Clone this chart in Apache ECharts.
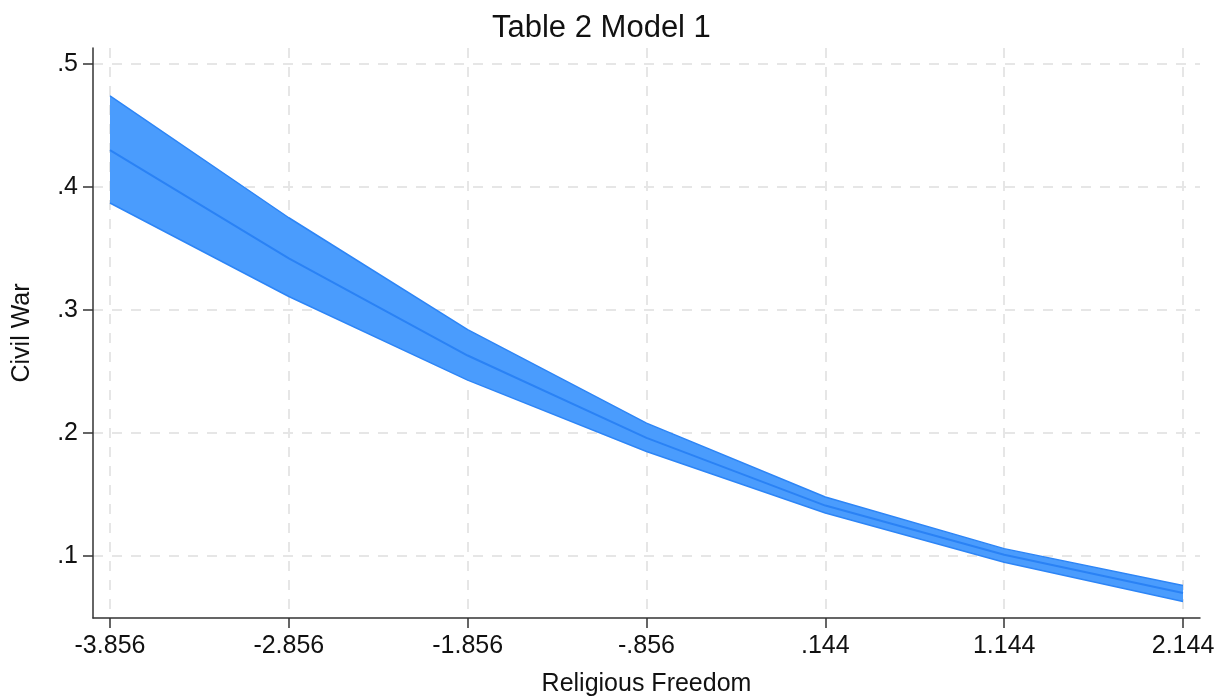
<!DOCTYPE html>
<html>
<head>
<meta charset="utf-8">
<script src="https://cdn.jsdelivr.net/npm/echarts@6/dist/echarts.min.js"></script>
<style>
  html, body { margin: 0; background: #fff; }
  #chart { width: 1225px; height: 697px; }
</style>
</head>
<body>
<div id="chart"></div>
<script>
// predicted probability of civil war by religious freedom, with CI
const freedom = [-3.856, -2.856, -1.856, -0.856, 0.144, 1.144, 2.144];
const fitMean = [0.430, 0.342, 0.263, 0.196, 0.141, 0.101, 0.070];
const ciLower = [0.387, 0.311, 0.243, 0.185, 0.135, 0.095, 0.063];
const ciUpper = [0.474, 0.375, 0.284, 0.208, 0.148, 0.106, 0.076];
const xTicks = [-3.856, -2.856, -1.856, -0.856, 0.144, 1.144, 2.144];
const yTicks = [0.1, 0.2, 0.3, 0.4, 0.5];

const font = '"Liberation Sans", Arial, sans-serif';
const fillColor = '#4a9cfd';
const edgeColor = '#2d85f6';
const meanColor = '#2a82f5';

// .5 instead of 0.5, -.856 instead of -0.856
function stataNum(v) {
  return String(v).replace(/^(-?)0\./, '$1.');
}

const pairs = (ys) => freedom.map((x, i) => [x, ys[i]]);

const gridLine = {
  show: true,
  lineStyle: { color: '#e6e6e6', width: 2, type: [10, 9] }
};

// the CI band as one polygon: upper edge left to right, lower edge back
function renderBand(params, api) {
  if (params.dataIndex !== 0) return null;
  const top = freedom.map((x, i) => api.coord([x, ciUpper[i]]));
  const bottom = freedom.map((x, i) => api.coord([x, ciLower[i]])).reverse();
  return {
    type: 'polygon',
    shape: { points: top.concat(bottom) },
    style: { fill: fillColor }
  };
}

const chart = echarts.init(document.getElementById('chart'));
chart.setOption({
  animation: false,
  textStyle: { fontFamily: font },
  title: {
    text: 'Table 2 Model 1',
    left: 487,
    top: 8,
    textStyle: { fontFamily: font, fontSize: 31, fontWeight: 'normal', color: '#111' }
  },
  grid: { left: 93, right: 25, top: 48, bottom: 79, outerBoundsMode: 'none' },
  xAxis: {
    type: 'value',
    min: -3.951,
    max: 2.239,
    name: 'Religious Freedom',
    nameLocation: 'middle',
    nameGap: 54,
    nameTextStyle: { fontFamily: font, fontSize: 25, color: '#111' },
    axisLine: { show: true, onZero: false, lineStyle: { color: '#333', width: 1.5 } },
    axisTick: { show: true, length: 10, customValues: xTicks, lineStyle: { color: '#333', width: 1.5 } },
    axisLabel: {
      customValues: xTicks,
      fontSize: 25,
      color: '#111',
      margin: 16,
      formatter: stataNum
    },
    splitLine: gridLine
  },
  yAxis: {
    type: 'value',
    min: 0.0496,
    max: 0.513,
    name: 'Civil War',
    nameLocation: 'middle',
    nameGap: 58,
    nameTextStyle: { fontFamily: font, fontSize: 25, color: '#111' },
    axisLine: { show: true, onZero: false, lineStyle: { color: '#333', width: 1.5 } },
    axisTick: { show: true, length: 10, customValues: yTicks, lineStyle: { color: '#333', width: 1.5 } },
    axisLabel: {
      customValues: yTicks,
      fontSize: 25,
      color: '#111',
      margin: 15,
      formatter: stataNum
    },
    splitLine: gridLine
  },
  series: [
    {
      name: 'band',
      type: 'custom',
      renderItem: renderBand,
      data: pairs(ciLower),
      encode: { x: 0, y: 1 },
      silent: true
    },
    {
      name: 'upper edge',
      type: 'line',
      data: pairs(ciUpper),
      showSymbol: false,
      lineStyle: { color: edgeColor, width: 1.5 }
    },
    {
      name: 'lower edge',
      type: 'line',
      data: pairs(ciLower),
      showSymbol: false,
      lineStyle: { color: edgeColor, width: 1.5 }
    },
    {
      name: 'fit',
      type: 'line',
      data: pairs(fitMean),
      showSymbol: false,
      lineStyle: { color: meanColor, width: 2 }
    }
  ]
});
</script>
</body>
</html>
